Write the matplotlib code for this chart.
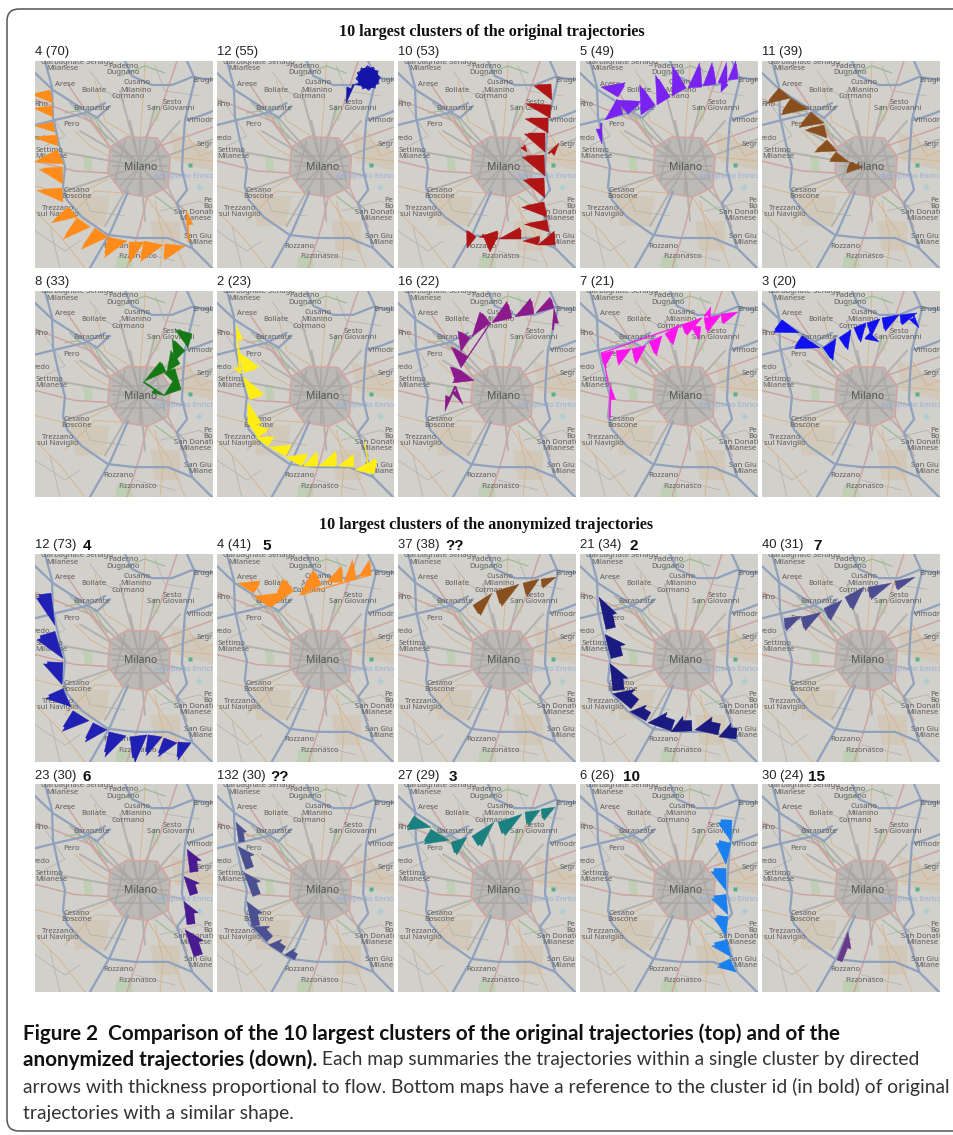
import math
import matplotlib
matplotlib.use("Agg")
import matplotlib.pyplot as plt
from matplotlib.patches import FancyBboxPatch, Polygon, Rectangle

# ---------------- panel captions ----------------
TITLE_TOP = "10 largest clusters of the original trajectories"
TITLE_BOTTOM = "10 largest clusters of the anonymized trajectories"
LABELS = ["4 (70)", "12 (55)", "10 (53)", "5 (49)", "11 (39)",
          "8 (33)", "2 (23)", "16 (22)", "7 (21)", "3 (20)",
          "12 (73)", "4 (41)", "37 (38)", "21 (34)", "40 (31)",
          "23 (30)", "132 (30)", "27 (29)", "6 (26)", "30 (24)"]
REFS = [None] * 10 + ["4", "5", "??", "2", "7", "6", "??", "3", "10", "15"]
REF_X = [None] * 10 + [87, 267, 455, 634, 818, 87, 280, 453, 632, 817]
COLORS = ["#ff8c1a", "#1414a8", "#b01414", "#7a22f2", "#8a4f1e",
          "#157a15", "#ffee14", "#8c1a8c", "#ff14ee", "#1010f0",
          "#2020b4", "#ff8c1e", "#8a4f1e", "#1a1a80", "#4c4c92",
          "#4a1a90", "#4a5090", "#1a8080", "#1a80f0", "#6a3a8a"]
HEAD = [0.95] * 10 + [0.9, 0.95, 0.95, 0.6, 0.95, 0.55, 0.55, 0.9, 0.85, 0.5]
SHAFT = [0.8] * 10 + [0.8, 0.8, 0.8, 0.7, 0.8, 0.65, 0.65, 0.8, 0.8, 0.6]

# ---------------- flows: x1, y1, x2, y2, thickness (map units) ----------------
flow_4_70 = [(15,29,18,42,16),(17,45,18,56,16),(18,61,20,71,16),(22,74,23,85,20),(22,89,29,103,22),
             (27,106,28,123,20),(27,127,28,141,22),(33,146,42,156,20),(42,157,55,166,22),(60,167,73,176,22),
             (73,176,92,180,18),(94,181,109,181,18),(109,180,128,184,18),(130,183,150,185,14),(153,181,151,149,6)]
flow_12_55 = [(152,17,164,17,11),(152,17,162,23,11),(152,17,158,27,11),(152,17,152,29,11),(152,17,146,27,11),(152,17,142,23,11),
              (152,17,140,17,11),(152,17,142,11,11),(152,17,146,7,11),(152,17,152,5,11),(152,17,158,7,11),(152,17,162,11,11),
              (147,24,138,24,2),(138,24,130,42,6)]
flow_10_53 = [(153,23,154,39,15),(153,44,152,57,22),(150,57,150,72,20),(147,72,147,91,18),(150,92,161,82,6),
              (127,84,129,91,5),(146,94,147,115,19),(146,117,147,137,18),(146,141,149,156,20),(149,159,151,171,20),
              (157,184,140,184,12),(140,184,125,180,8),(123,178,101,178,10),(99,179,81,176,8),(98,179,92,191,13),(78,176,69,187,10)]
flow_5_49 = [(158,18,148,19,16),(147,22,138,22,18),(136,23,123,25,19),(122,26,108,27,21),(106,27,92,35,22),
             (90,36,77,44,23),(75,44,61,54,22),(48,53,36,39,16),(38,36,21,26,14),(43,53,25,59,14),(22,62,22,83,6),(148,24,141,31,8)]
flow_11_39 = [(17,27,29,37,17),(29,37,46,48,17),(49,51,62,62,17),(62,64,65,77,17),(65,79,75,90,15),(74,91,87,101,10),(88,101,101,106,10)]
flow_8_33 = [(157,43,153,57,15),(150,60,139,71,15),(145,73,132,81,14),(131,81,109,91,10),(109,91,130,105,5),
             (146,99,129,105,12),(134,81,145,99,2),(140,78,146,99,10)]
flow_2_23 = [(149,152,153,181,3),(158,184,139,180,14),(137,177,122,176,11),(120,176,103,176,13),(101,176,87,176,13),
             (85,176,69,167,12),(69,166,53,157,11),(51,156,39,147,10),(41,147,31,132,12),(31,134,31,112,12),
             (33,109,26,86,13),(27,82,21,61,14),(24,83,16,77,6),(22,77,19,34,6)]
flow_16_22 = [(154,39,156,17,6),(156,17,138,22,10),(136,23,117,26,14),(114,27,94,32,15),(92,32,74,46,13),(93,32,63,77,2),
              (72,47,63,61,12),(70,66,63,77,17),(63,80,58,92,10),(63,80,76,90,13),(58,96,47,121,6),(58,96,65,114,6)]
flow_7_21 = [(29,127,30,94,6),(28,94,24,72,2),(21,63,34,60,12),(36,60,51,58,13),(52,58,66,55,14),(69,51,82,45,14),
             (85,43,99,34,12),(102,34,122,27,10),(21,62,122,27,2),(124,27,141,24,13),(141,23,158,21,9),(124,25,131,16,6),(121,36,119,49,9)]
flow_3_20 = [(20,29,37,42,13),(40,45,58,57,13),(61,57,74,48,14),(77,47,89,39,13),(92,37,104,32,14),(105,32,118,28,12),
             (120,27,137,24,12),(138,24,155,22,9),(152,24,157,37,6),(108,42,117,51,7)]
flow_12_73 = [(16,39,20,71,13),(20,77,28,104,17),(28,108,27,130,17),(28,134,36,152,17),(38,156,54,166,20),(58,168,72,175,18),
              (74,177,91,181,22),(95,182,112,180,23),(113,180,127,182,18),(129,183,142,188,17),(143,187,156,188,16)]
flow_4_41 = [(155,21,143,22,13),(140,25,128,27,17),(126,28,110,28,14),(155,21,85,41,2),(105,31,83,41,15),(77,37,54,53,14),(53,53,37,42,14),(37,39,21,29,12)]
flow_37_38 = [(75,51,94,39,11),(98,37,121,30,14),(125,29,141,25,12),(143,25,158,23,8)]
flow_21_34 = [(156,184,139,182,13),(138,180,115,175,14),(112,176,91,177,13),(91,176,68,168,14),(66,166,50,157,12),
              (51,154,33,139,15),(33,136,30,109,14),(31,104,25,80,15),(26,75,19,43,12)]
flow_40_31 = [(22,64,39,62,11),(39,63,59,58,12),(62,54,80,46,12),(83,43,102,33,13),(106,33,129,29,11),(133,27,153,23,8)]
flow_23_30 = [(159,172,150,145,12),(152,140,149,117,11),(155,111,149,92,11),(155,88,152,65,11)]
flow_132_30 = [(78,175,68,170,9),(65,168,52,160,10),(50,157,36,142,11),(35,142,30,117,11),(36,112,27,88,11),(29,85,21,62,11),(22,58,19,38,8)]
flow_27_29 = [(16,32,33,43,13),(33,45,51,56,14),(53,58,69,53,12),(74,52,96,38,12),(100,38,124,30,13),(127,28,142,26,12),(143,25,157,23,10)]
flow_6_26 = [(152,36,151,57,12),(151,59,146,80,13),(146,84,146,106,13),(146,110,148,130,13),(148,132,146,151,12),(147,155,151,172,14),(150,174,156,187,13)]
flow_30_24 = [(75,175,86,147,8)]
FLOWS = [flow_4_70, flow_12_55, flow_10_53, flow_5_49, flow_11_39, flow_8_33, flow_2_23, flow_16_22, flow_7_21, flow_3_20,
         flow_12_73, flow_4_41, flow_37_38, flow_21_34, flow_40_31, flow_23_30, flow_132_30, flow_27_29, flow_6_26, flow_30_24]

# ---------------- base map (map units, shared by every panel) ----------------
motorways = [
    [(17,26),(18,56),(23,79),(30,106),(28,126),(32,139),(47,156),(73,174),(100,177),(133,177),(157,187),(177,207)],
    [(152,0),(160,18),(150,59),(148,86),(147,109),(152,129),(142,142),(150,166),(157,186)],
    [(0,12),(18,29),(62,57),(75,45)],
    [(0,64),(20,59),(50,52),(70,42)],
    [(90,0),(97,15),(117,24),(137,24),(157,16),(178,19)],
    [(93,131),(75,172),(55,207)],
    [(178,50),(165,55),(152,59)],
    [(17,26),(10,0)],
]
primary = [
    [(142,0),(125,50),(110,77)],
    [(32,22),(75,86)],
    [(122,86),(178,66)],
    [(133,126),(152,166)],
    [(112,136),(105,166),(92,207)],
    [(75,86),(55,60),(0,38)],
    [(73,112),(40,110),(0,100)],
]
ring_road = [(75,86),(92,76),(122,77),(135,96),(133,126),(112,136),(88,132),(73,112),(75,86)]
secondary = [
    [(0,125),(40,135),(73,118)], [(112,136),(135,170),(150,207)], [(60,20),(70,60),(95,75)],
    [(135,96),(178,100)], [(30,160),(60,130),(88,132)], [(110,0),(108,40),(105,76)],
    [(0,150),(25,175),(50,207)], [(40,70),(55,85),(73,95)], [(120,140),(128,175),(125,207)], [(150,70),(165,95),(178,90)],
]
greenways = [[(72,78),(60,58),(42,50),(30,52)], [(85,15),(110,5),(130,12)], [(120,135),(140,150)]]
spokes = [
    [(105,105),(35,42)], [(105,105),(60,55)], [(105,105),(85,30)], [(105,105),(120,45)], [(105,105),(145,60)],
    [(105,105),(178,78)], [(105,105),(150,115)], [(105,105),(150,150)], [(105,105),(110,160)], [(105,105),(70,165)],
    [(105,105),(30,130)], [(105,105),(20,90)], [(105,105),(45,70)], [(105,105),(95,60)],
    [(85,85),(125,125)], [(125,85),(85,125)], [(78,105),(132,105)], [(105,78),(105,134)],
    [(90,80),(80,120)], [(120,80),(130,120)], [(78,95),(130,95)], [(80,118),(128,118)],
]
local_roads = [
    [(0,170),(30,190),(45,180)], [(15,165),(25,207)], [(125,150),(165,140),(178,150)], [(100,190),(140,200)],
    [(55,10),(70,30),(90,40)], [(120,5),(130,30),(165,35)], [(10,45),(30,75),(10,85)], [(45,125),(55,150),(90,155)],
]
place_names = [
    ("Garbagnate Senago",42,1), ("Milanese",27,8), ("Paderno",88,5), ("Dugnano",88,12), ("Arese",30,23),
    ("Bollate",59,29), ("Cusano",102,22), ("Milanino",101,29), ("Cormano",93,36), ("Brugh",168,19),
    ("Rho",6,43), ("Baranzate",57,47), ("Sesto",137,41), ("San Giovanni",136,47), ("Pero",37,64),
    ("Vimodr",165,60), ("redo",7,77), ("Settimo",15,89), ("Milanese",16,95), ("Segr",170,83),
    ("Cesano",42,129), ("Boscone",42,135), ("Trezzano",23,147), ("sul Naviglio",23,153),
    ("San Donato",160,152), ("Milanese",160,158), ("Pe",173,140), ("Bo",173,146),
    ("San Giu",163,175), ("Milane",165,181), ("Rozzano",83,185), ("Fizzonasco",103,196),
]
green_areas = [[(82,195),(96,195),(98,207),(80,207)], [(48,95),(56,95),(58,110),(50,110)], [(118,45),(124,45),(124,60),(118,60)]]
tan_areas = [[(35,135),(75,135),(70,165),(40,165)], [(115,160),(145,160),(145,190),(120,190)], [(135,70),(178,90),(178,110),(140,100)]]

# ---------------- layout in reference pixels ----------------
W, H = 954, 1135
COL_X = [35, 217, 398, 580, 762]
COL_W = [178, 177, 178, 178, 178]
ROW_Y = [61, 291, 554, 784]
ROW_H = [207, 206, 208, 208]
LABEL_Y = [52, 282, 545, 776]
CAP_BOLD_1 = "Figure 2  Comparison of the 10 largest clusters of the original trajectories (top) and of the"
CAP_BOLD_2 = "anonymized trajectories (down)."
CAP_REST_2 = " Each map summaries the trajectories within a single cluster by directed"
CAP_3 = "arrows with thickness proportional to flow. Bottom maps have a reference to the cluster id (in bold) of original"
CAP_4 = "trajectories with a similar shape."
WIDTH_GAIN = 1.15

fig = plt.figure(figsize=(W / 100, H / 100), dpi=100, facecolor="white")
bg = fig.add_axes([0, 0, 1, 1])
bg.set_xlim(0, W); bg.set_ylim(H, 0); bg.axis("off")
bg.add_patch(FancyBboxPatch((7, 9), 1000, 1122, boxstyle="round,pad=0,rounding_size=12",
                            fc="white", ec="#555555", lw=1.1, clip_on=True))


def draw_lines(ax, lines, color, lw, alpha=1.0):
    for line in lines:
        ax.plot([p[0] for p in line], [p[1] for p in line], color=color, lw=lw, alpha=alpha,
                solid_capstyle="round", solid_joinstyle="round")


def draw_map(ax):
    ax.add_patch(Rectangle((0, 0), 178, 207, fc="#d2d0cb", ec="none"))
    for poly in tan_areas:
        ax.add_patch(Polygon(poly, fc="#d2c7b6", ec="none", alpha=0.8))
    for poly in green_areas:
        ax.add_patch(Polygon(poly, fc="#bfcfb4", ec="none"))
    ax.add_patch(Polygon(ring_road, fc="#bcbab7", ec="none"))
    draw_lines(ax, local_roads, "#b5b4b0", 0.6)
    draw_lines(ax, spokes, "#a8a7a5", 1.4, 0.75)
    draw_lines(ax, secondary, "#d6b690", 0.7)
    draw_lines(ax, greenways, "#9dbb97", 0.9)
    draw_lines(ax, primary, "#cda5a0", 1.1)
    draw_lines(ax, [ring_road], "#cfa6a2", 1.3)
    draw_lines(ax, motorways, "#8fa1bd", 1.6)
    for name, x, y in place_names:
        ax.text(x, y, name, fontsize=5.5, color="#5e5e5e", ha="center", va="center",
                family="Noto Sans", clip_on=True)
    ax.text(106, 106, "Milano", fontsize=7.4, color="#555555", ha="center", va="center", family="Noto Sans")
    ax.text(150, 115, "Aeroporto Enrico", fontsize=5.5, color="#96aedb", ha="center", va="center",
            family="Noto Sans", clip_on=True)
    ax.plot([164], [126], marker="P", ms=5, color="#a8cdd2", mec="none")
    ax.plot([155], [104], marker="s", ms=2.5, color="#58b088", mec="none")


def draw_flow(ax, seg, color, head, shaft):
    x1, y1, x2, y2, w = seg
    length = math.hypot(x2 - x1, y2 - y1)
    ux, uy = (x2 - x1) / length, (y2 - y1) / length
    nx, ny = -uy, ux
    if w >= 7:
        w = w * WIDTH_GAIN
        head_len, s = head * length, shaft * w
    else:
        head_len, s = min(0.8 * length, 2.5 * w), max(0.25 * w, 0.8)
    bx, by = x2 - head_len * ux, y2 - head_len * uy
    ax.add_patch(Polygon([(x1, y1), (x2, y2), (bx + nx * w, by + ny * w), (bx + nx * s, by + ny * s),
                          (x1 + nx * s, y1 + ny * s)], closed=True, fc=color, ec=color, lw=0.3, zorder=5))


for i, label in enumerate(LABELS):
    row, col = i // 5, i % 5
    x0, y0, pw, ph = COL_X[col], ROW_Y[row], COL_W[col], ROW_H[row]
    ax = fig.add_axes([x0 / W, 1 - (y0 + ph) / H, pw / W, ph / H])
    ax.set_xlim(0, 178); ax.set_ylim(207, 0); ax.axis("off")
    draw_map(ax)
    for seg in FLOWS[i]:
        draw_flow(ax, seg, COLORS[i], HEAD[i], SHAFT[i])
    bg.text(x0, LABEL_Y[row], label, fontsize=9.4, family="Liberation Sans", color="#222222", ha="left", va="center")
    if REFS[i]:
        bg.text(REF_X[i], LABEL_Y[row] + 1, REFS[i], fontsize=11, fontweight="bold", family="Liberation Sans",
                color="#111111", ha="center", va="center")

bg.text(492, 32, TITLE_TOP, fontsize=11.6, fontweight="bold", family="Liberation Serif", ha="center", va="center", color="#111111")
bg.text(486, 525, TITLE_BOTTOM, fontsize=11.5, fontweight="bold", family="Liberation Serif", ha="center", va="center", color="#111111")

CAP_FONT = "Lato"
cap_color = "#333333"
bg.text(23, 1034, CAP_BOLD_1, fontsize=14.85, fontweight="bold", family=CAP_FONT, color="#111111", va="center")
t = bg.text(23, 1060, CAP_BOLD_2, fontsize=14.9, fontweight="bold", family=CAP_FONT, color="#111111", va="center")
fig.canvas.draw()
end = t.get_window_extent().x1
bg.text(end, 1060, CAP_REST_2, fontsize=13.9, family=CAP_FONT, color=cap_color, va="center")
bg.text(23, 1087, CAP_3, fontsize=13.85, family=CAP_FONT, color=cap_color, va="center")
bg.text(23, 1113, CAP_4, fontsize=13.85, family=CAP_FONT, color=cap_color, va="center")

fig.savefig("out.png", dpi=100)
